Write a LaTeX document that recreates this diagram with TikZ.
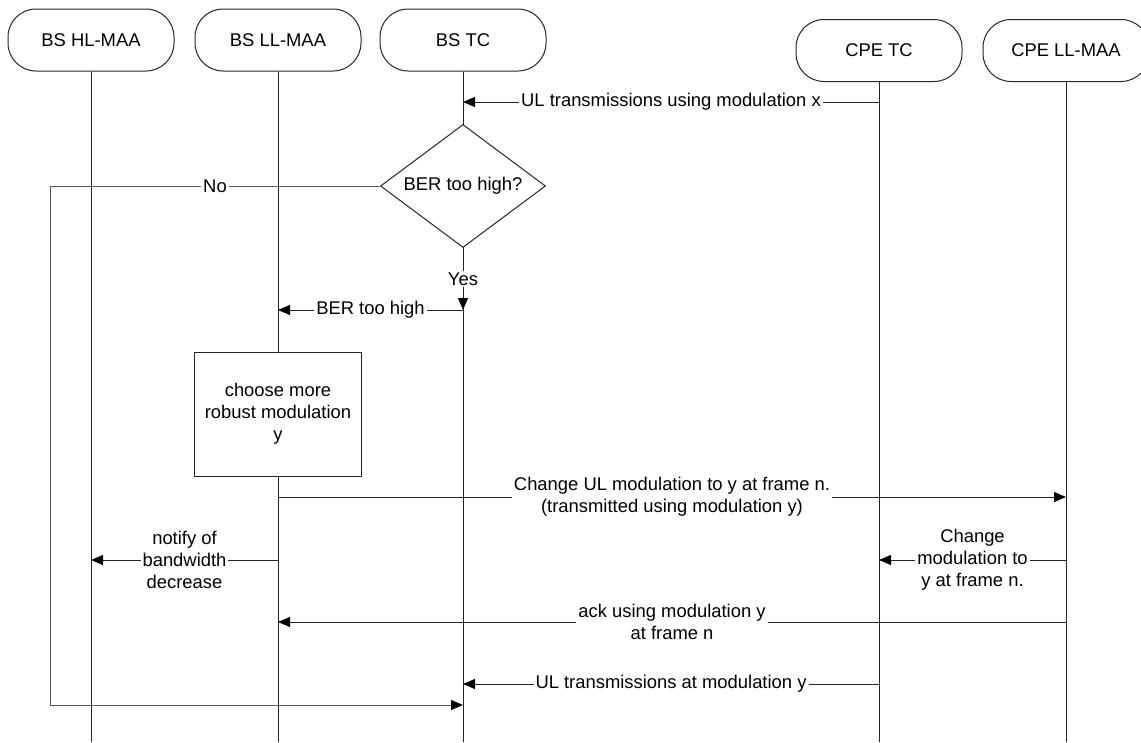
\documentclass[tikz,border=0pt]{standalone}
\usepackage{fontspec}
\setmainfont{Liberation Sans}
\usetikzlibrary{arrows.meta,shapes.geometric,positioning}

\begin{document}
\begin{tikzpicture}[x=1pt, y=-1pt,
    font=\fontsize{18.4}{22}\selectfont,
    line width=1pt,
    actor/.style={rectangle, draw=black!85, fill=white, rounded corners=28pt, minimum width=166pt, minimum height=62pt},
    decision/.style={diamond, draw=black!85, fill=white, aspect=1.34, minimum width=165pt, minimum height=123pt, inner sep=0pt},
    proc/.style={rectangle, draw=black!85, fill=white, minimum width=167pt, minimum height=124pt, align=center},
    msg/.style={-{Triangle[length=12pt,width=10pt,color=black]}, draw=black!85},
    lbl/.style={fill=white, inner sep=2pt, align=center}
]
\useasboundingbox (0,0) rectangle (1141,742);

% Lifeline heads
\node[actor] (hl) at (91,40) {BS HL-MAA};
\node[actor] (ll) at (278,40) {BS LL-MAA};
\node[actor] (tc) at (463,40) {BS TC};
\node[actor] (cpetc) at (879,50.5) {CPE TC};
\node[actor] (cpell) at (1066,50.5) {CPE LL-MAA};

% Lifelines
\coordinate (bottom) at (0,742);
\foreach \n in {hl,ll,tc,cpetc,cpell}
    \draw[black!85] (\n.south) -- (\n |- bottom);

% Message rows
\coordinate (r1) at (0,102);
\coordinate (r2) at (0,310);
\coordinate (r3) at (0,497);
\coordinate (r4) at (0,560);
\coordinate (r5) at (0,622);
\coordinate (r6) at (0,684);
\coordinate (noleft) at (50,186);
\coordinate (nobottom) at (50,705);

% Decision and processing
\node[decision] (ber) at (463,186) {BER too high?};
\node[proc] (choose) at (278,414) {choose more\\robust modulation\\y};

% Messages
\draw[msg] (cpetc |- r1) -- node[lbl] {UL transmissions using modulation x} (tc |- r1);
\draw[msg, draw=black!65] (ber.west) -- node[lbl] {No} (noleft) -- (nobottom) -- (tc |- nobottom);
\draw[msg] (ber.south) -- node[lbl] {Yes} (tc |- r2);
\draw[msg] (tc |- r2) -- node[lbl] {BER too high} (ll |- r2);
\draw[msg] (ll |- r3) -- node[lbl] {Change UL modulation to y at frame n.\\(transmitted using modulation y)} (cpell |- r3);
\draw[msg] (ll |- r4) -- node[lbl] {notify of\\bandwidth\\decrease} (hl |- r4);
\draw[msg] (cpell |- r4) -- node[lbl] {Change\\modulation to\\y at frame n.} (cpetc |- r4);
\draw[msg] (cpell |- r5) -- node[lbl] {ack using modulation y\\at frame n} (ll |- r5);
\draw[msg] (cpetc |- r6) -- node[lbl] {UL transmissions at modulation y} (tc |- r6);

\end{tikzpicture}
\end{document}
